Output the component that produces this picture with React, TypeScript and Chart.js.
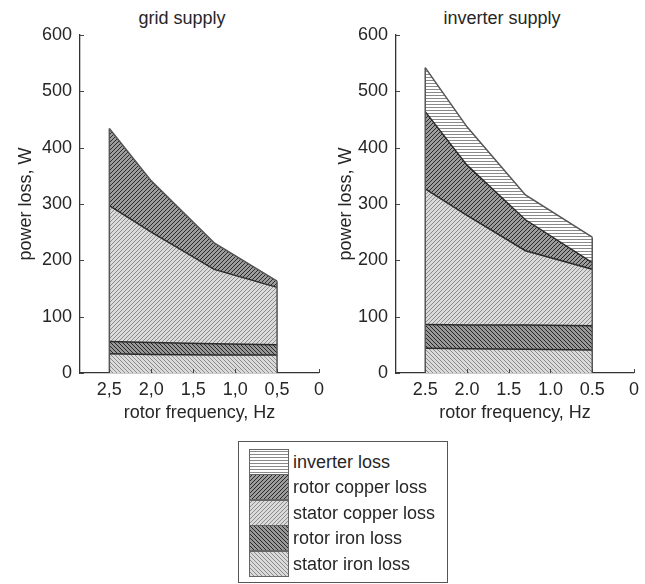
import React, { useEffect, useRef } from 'react';
import { Chart, registerables } from 'chart.js';

Chart.register(...registerables);

// ---------- data ----------
const gridFreq = [2.5, 2.0, 1.25, 0.5];
const gridStatorIron = [34, 33, 32, 32];
const gridRotorIron = [22, 21, 20, 18];
const gridStatorCopper = [241, 196, 132, 102];
const gridRotorCopper = [137, 91, 47, 11];

const invFreq = [2.5, 2.0, 1.3, 0.5];
const invStatorIron = [44, 43, 42, 41];
const invRotorIron = [42, 42, 43, 43];
const invStatorCopper = [241, 195, 132, 100];
const invRotorCopper = [137, 89, 55, 12];
const invInverter = [78, 68, 44, 45];

const xTickValues = [2.5, 2.0, 1.5, 1.0, 0.5, 0];
const gridXTickLabels = ['2,5', '2,0', '1,5', '1,0', '0,5', '0'];
const invXTickLabels = ['2.5', '2.0', '1.5', '1.0', '0.5', '0'];
const yTickValues = [0, 100, 200, 300, 400, 500, 600];

const legendKeys = ['inverter', 'rotorCopper', 'statorCopper', 'rotorIron', 'statorIron'];
const legendLabels = ['inverter loss', 'rotor copper loss', 'stator copper loss', 'rotor iron loss', 'stator iron loss'];

// ---------- styles ----------
const FONT = '"Liberation Sans", Arial, Helvetica, sans-serif';
const TEXT = '#262626';

type Hatch = { bg: string; fg: string; kind: 'h' | '/' | '\\'; size: number; lw: number };
const hatches: Record<string, Hatch> = {
  inverter: { bg: '#ffffff', fg: '#8a8a8a', kind: 'h', size: 3, lw: 1 },
  rotorCopper: { bg: '#9c9c9c', fg: '#2a2a2a', kind: '/', size: 4, lw: 1 },
  statorCopper: { bg: '#dadada', fg: '#8c8c8c', kind: '/', size: 4, lw: 1 },
  rotorIron: { bg: '#989898', fg: '#262626', kind: '\\', size: 4, lw: 1 },
  statorIron: { bg: '#dadada', fg: '#8c8c8c', kind: '\\', size: 4, lw: 1 },
};

function makePattern(ctx: CanvasRenderingContext2D, h: Hatch): CanvasPattern | string {
  const s = h.size;
  const c = document.createElement('canvas');
  c.width = s;
  c.height = s;
  const g = c.getContext('2d');
  if (!g) return h.bg;
  g.fillStyle = h.bg;
  g.fillRect(0, 0, s, s);
  g.strokeStyle = h.fg;
  g.lineWidth = h.lw;
  g.beginPath();
  if (h.kind === 'h') {
    g.moveTo(0, s - 0.5);
    g.lineTo(s, s - 0.5);
  } else if (h.kind === '/') {
    g.moveTo(0, s);
    g.lineTo(s, 0);
    g.moveTo(-1, 1);
    g.lineTo(1, -1);
    g.moveTo(s - 1, s + 1);
    g.lineTo(s + 1, s - 1);
  } else {
    g.moveTo(0, 0);
    g.lineTo(s, s);
    g.moveTo(-1, s - 1);
    g.lineTo(1, s + 1);
    g.moveTo(s - 1, -1);
    g.lineTo(s + 1, 1);
  }
  g.stroke();
  return ctx.createPattern(c, 'repeat') || h.bg;
}

type Series = { key: string; label: string; values: number[] };

type ChartProps = {
  left: number;
  width: number;
  height: number;
  yAxisWidth: number;
  freq: number[];
  series: Series[];
  xLabels: string[];
};

function LossChart({ left, width, height, yAxisWidth, freq, series, xLabels }: ChartProps) {
  const ref = useRef<HTMLCanvasElement | null>(null);
  useEffect(() => {
    const canvas = ref.current;
    if (!canvas) return;
    const ctx = canvas.getContext('2d');
    if (!ctx) return;

    const edgePlugin = {
      id: 'edges',
      afterDatasetsDraw(chart: any) {
        const { ctx: c, scales } = chart;
        const x = scales.x;
        const y = scales.y;
        c.save();
        c.strokeStyle = '#555';
        c.lineWidth = 1.5;
        [0, freq.length - 1].forEach((j) => {
          const total = series.reduce((a, s) => a + s.values[j], 0);
          const px = x.getPixelForValue(freq[j]);
          c.beginPath();
          c.moveTo(px, y.getPixelForValue(0));
          c.lineTo(px, y.getPixelForValue(total));
          c.stroke();
        });
        c.restore();
      },
    };

    const tickPlugin = {
      id: 'inwardTicks',
      afterDraw(chart: any) {
        const { ctx: c, scales, chartArea } = chart;
        c.save();
        c.strokeStyle = '#444';
        c.lineWidth = 1;
        c.beginPath();
        yTickValues.forEach((v) => {
          const py = Math.round(scales.y.getPixelForValue(v)) + 0.5;
          c.moveTo(chartArea.left, py);
          c.lineTo(chartArea.left + 4, py);
        });
        xTickValues.forEach((v) => {
          const px = Math.round(scales.x.getPixelForValue(v)) + 0.5;
          c.moveTo(px, chartArea.bottom);
          c.lineTo(px, chartArea.bottom - 4);
        });
        c.stroke();
        c.restore();
      },
    };

    const font = { family: FONT, size: 18 };

    const chart = new Chart(canvas, {
      type: 'line',
      data: {
        datasets: series.map((s, i) => ({
          label: s.label,
          data: freq.map((f, j) => ({ x: f, y: s.values[j] })),
          backgroundColor: makePattern(ctx, hatches[s.key]) as any,
          borderColor: i === series.length - 1 ? '#555' : '#2a2a2a',
          borderWidth: 1.5,
          fill: i === 0 ? 'origin' : '-1',
          pointRadius: 0,
          tension: 0,
        })),
      },
      options: {
        animation: false,
        responsive: false,
        maintainAspectRatio: false,
        layout: { padding: { left: 0, right: 5, top: 35, bottom: 0 } },
        plugins: {
          legend: { display: false },
          tooltip: { enabled: false },
          title: { display: false },
        },
        scales: {
          x: {
            type: 'linear',
            reverse: true,
            min: 0,
            max: 2.85,
            afterBuildTicks: (s: any) => {
              s.ticks = xTickValues.map((v) => ({ value: v }));
            },
            afterFit: (s: any) => {
              s.height = 57;
            },
            grid: { display: false, drawTicks: false },
            border: { display: true, color: '#333', width: 1.3 },
            ticks: {
              autoSkip: false,
              maxRotation: 0,
              padding: 6,
              color: TEXT,
              font,
              callback: (v: any) => {
                const idx = xTickValues.findIndex((t) => Math.abs(t - Number(v)) < 1e-6);
                return idx >= 0 ? xLabels[idx] : '';
              },
            },
            title: {
              display: true,
              text: 'rotor frequency, Hz',
              color: TEXT,
              font,
              padding: { top: 0, bottom: 6 },
            },
          },
          y: {
            stacked: true,
            min: 0,
            max: 600,
            afterBuildTicks: (s: any) => {
              s.ticks = yTickValues.map((v) => ({ value: v }));
            },
            afterFit: (s: any) => {
              s.width = yAxisWidth;
            },
            grid: { display: false, drawTicks: false },
            border: { display: true, color: '#333', width: 1.3 },
            ticks: { padding: 8, color: TEXT, font },
            title: {
              display: true,
              text: 'power loss, W',
              color: TEXT,
              font,
              padding: { top: 15, bottom: 0 },
            },
          },
        },
      } as any,
      plugins: [edgePlugin, tickPlugin],
    });
    return () => chart.destroy();
  }, []);
  return (
    <canvas
      ref={ref}
      width={width}
      height={height}
      style={{ position: 'absolute', left, top: 0, width, height }}
    />
  );
}

function Swatch({ hkey }: { hkey: string }) {
  const ref = useRef<HTMLCanvasElement | null>(null);
  useEffect(() => {
    const c = ref.current;
    if (!c) return;
    const g = c.getContext('2d');
    if (!g) return;
    g.fillStyle = makePattern(g, hatches[hkey]) as any;
    g.fillRect(0, 0, c.width, c.height);
    g.strokeStyle = '#666';
    g.lineWidth = 1;
    g.strokeRect(0.5, 0.5, c.width - 1, c.height - 1);
  }, [hkey]);
  return <canvas ref={ref} width={40} height={26} style={{ position: 'absolute', left: 10, top: 0 }} />;
}

export default function App() {
  const gridSeries: Series[] = [
    { key: 'statorIron', label: 'stator iron loss', values: gridStatorIron },
    { key: 'rotorIron', label: 'rotor iron loss', values: gridRotorIron },
    { key: 'statorCopper', label: 'stator copper loss', values: gridStatorCopper },
    { key: 'rotorCopper', label: 'rotor copper loss', values: gridRotorCopper },
  ];
  const invSeries: Series[] = [
    { key: 'statorIron', label: 'stator iron loss', values: invStatorIron },
    { key: 'rotorIron', label: 'rotor iron loss', values: invRotorIron },
    { key: 'statorCopper', label: 'stator copper loss', values: invStatorCopper },
    { key: 'rotorCopper', label: 'rotor copper loss', values: invRotorCopper },
    { key: 'inverter', label: 'inverter loss', values: invInverter },
  ];
  const titleStyle: React.CSSProperties = {
    position: 'absolute',
    top: 7,
    width: 300,
    textAlign: 'center',
    fontFamily: FONT,
    fontSize: 18,
    lineHeight: '22px',
    color: TEXT,
  };
  return (
    <div style={{ position: 'absolute', left: 0, top: 0, width: 645, height: 584, background: '#fff', overflow: 'hidden' }}>
      <div style={{ ...titleStyle, left: 182 - 150 }}>grid supply</div>
      <div style={{ ...titleStyle, left: 502 - 150 }}>inverter supply</div>
      <LossChart left={0} width={330} height={430} yAxisWidth={80} freq={gridFreq} series={gridSeries} xLabels={gridXTickLabels} />
      <LossChart left={320} width={325} height={430} yAxisWidth={76} freq={invFreq} series={invSeries} xLabels={invXTickLabels} />
      <div
        style={{
          position: 'absolute',
          left: 238,
          top: 441,
          width: 210,
          height: 142,
          border: '1px solid #555',
          boxSizing: 'border-box',
          background: '#fff',
        }}
      >
        {legendKeys.map((k, i) => (
          <div key={k} style={{ position: 'absolute', left: 0, top: 7 + Math.round(i * 25.4), width: 200, height: 26 }}>
            <Swatch hkey={k} />
            <div
              style={{
                position: 'absolute',
                left: 54,
                top: 0,
                lineHeight: '26px',
                fontFamily: FONT,
                fontSize: 18,
                color: TEXT,
                whiteSpace: 'nowrap',
              }}
            >
              {legendLabels[i]}
            </div>
          </div>
        ))}
      </div>
    </div>
  );
}
